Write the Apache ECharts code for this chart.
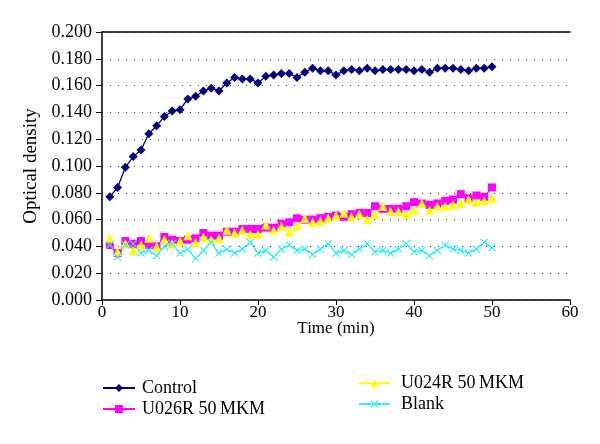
<!DOCTYPE html>
<html><head><meta charset="utf-8">
<script src="https://cdn.jsdelivr.net/npm/echarts@6/dist/echarts.min.js"></script>
<style>html,body{margin:0;padding:0;background:#fff}#c{width:600px;height:444px}</style>
</head><body><div id="c"></div>
<script>
var times = [];
for (var i = 1; i <= 50; i++) times.push(i);
var control = [0.077,0.084,0.099,0.107,0.112,0.124,0.130,0.137,0.141,0.142,0.150,0.152,0.156,0.158,0.156,0.162,0.166,0.165,0.165,0.162,0.167,0.168,0.169,0.169,0.166,0.170,0.173,0.171,0.171,0.168,0.171,0.172,0.171,0.173,0.171,0.172,0.172,0.172,0.172,0.171,0.172,0.170,0.173,0.173,0.173,0.172,0.171,0.173,0.173,0.174];
var u026r = [0.041,0.035,0.044,0.042,0.044,0.041,0.040,0.047,0.045,0.044,0.045,0.046,0.050,0.048,0.048,0.051,0.051,0.053,0.053,0.053,0.054,0.054,0.057,0.058,0.061,0.060,0.060,0.061,0.062,0.063,0.062,0.064,0.065,0.065,0.070,0.068,0.068,0.068,0.070,0.073,0.072,0.071,0.072,0.074,0.075,0.079,0.076,0.078,0.077,0.084];
var u024r = [0.046,0.036,0.042,0.037,0.041,0.046,0.040,0.045,0.042,0.044,0.048,0.043,0.047,0.045,0.046,0.052,0.050,0.052,0.049,0.049,0.056,0.052,0.055,0.051,0.055,0.061,0.058,0.059,0.061,0.063,0.065,0.062,0.064,0.060,0.064,0.070,0.066,0.066,0.064,0.067,0.072,0.067,0.070,0.070,0.071,0.072,0.075,0.073,0.074,0.076];
var blank = [0.041,0.032,0.041,0.042,0.035,0.037,0.033,0.040,0.042,0.035,0.038,0.031,0.037,0.043,0.035,0.038,0.035,0.038,0.043,0.035,0.037,0.032,0.038,0.041,0.037,0.038,0.034,0.038,0.042,0.035,0.037,0.034,0.038,0.042,0.036,0.037,0.035,0.038,0.042,0.036,0.037,0.033,0.037,0.041,0.038,0.037,0.035,0.038,0.043,0.039];
var seriesNames = ['Control','U026R 50\u2009MKM','U024R 50\u2009MKM','Blank'];

function pairs(v){ return v.map(function(y,i){ return [times[i], y]; }); }
var FONT = 'Liberation Serif';
var X = 'path://M0,1L1,0L5,4L9,0L10,1L6,5L10,9L9,10L5,6L1,10L0,9L4,5Z';
var chart = echarts.init(document.getElementById('c'));
chart.setOption({
  animation: false,
  backgroundColor: '#fff',
  grid: {left: 102, right: 30, top: 32, bottom: 144},
  legend: [
    {left: 97, top: 374, orient: 'vertical', itemWidth: 32, itemHeight: 10, itemGap: 3,
     textStyle: {fontFamily: FONT, fontSize: 18, color: '#000', padding: [0,0,0,2]}, data: [seriesNames[0], seriesNames[1]]},
    {left: 353, top: 369, orient: 'vertical', itemWidth: 31, itemHeight: 10, itemGap: 3,
     textStyle: {fontFamily: FONT, fontSize: 18, color: '#000', padding: [0,0,0,6]}, data: [seriesNames[2], seriesNames[3]]}
  ],
  xAxis: [{
    type: 'value', min: 0, max: 60, interval: 10,
    name: 'Time (min)', nameLocation: 'middle', nameGap: 20, nameMoveOverlap: false,
    nameTextStyle: {fontFamily: FONT, fontSize: 17, color: '#000'},
    axisLine: {lineStyle: {color: '#000', width: 1.5}},
    axisTick: {show: true, length: 5, lineStyle: {color: '#000'}},
    axisLabel: {fontFamily: FONT, fontSize: 17, color: '#000', margin: 4},
    splitLine: {show: false}
  }, {
    type: 'value', min: 0, max: 60, position: 'top',
    axisLine: {show: true, lineStyle: {color: '#000', width: 1.5}},
    axisTick: {show: false}, axisLabel: {show: false}, splitLine: {show: false}
  }],
  yAxis: {
    type: 'value', min: 0, max: 0.2, interval: 0.02,
    name: 'Optical density', nameLocation: 'middle', nameGap: 60, nameRotate: 90,
    nameTextStyle: {fontFamily: FONT, fontSize: 19, color: '#000'},
    axisLine: {show: true, lineStyle: {color: '#000', width: 1.5}},
    axisTick: {show: true, length: 6, lineStyle: {color: '#000'}},
    axisLabel: {fontFamily: FONT, fontSize: 18, color: '#000', margin: 10,
      formatter: function(v){ return v.toFixed(3); }},
    splitLine: {show: true, lineStyle: {color: '#333', type: [1, 7], width: 1}}
  },
  series: [
    {name: seriesNames[0], type: 'line', data: pairs(control), symbol: 'diamond', symbolSize: 9,
     lineStyle: {color: '#000080', width: 1.3}, itemStyle: {color: '#000080'}},
    {name: seriesNames[1], type: 'line', data: pairs(u026r), symbol: 'rect', symbolSize: 8,
     lineStyle: {color: '#ff00ff', width: 1.3}, itemStyle: {color: '#ff00ff'}},
    {name: seriesNames[2], type: 'line', data: pairs(u024r), symbol: 'triangle', symbolSize: 9,
     lineStyle: {color: '#ffff00', width: 1.3}, itemStyle: {color: '#ffff00'}},
    {name: seriesNames[3], type: 'line', data: pairs(blank), symbol: X, symbolSize: 8,
     lineStyle: {color: '#33eeee', width: 1.3}, itemStyle: {color: '#33eeee'}}
  ]
});
</script></body></html>
